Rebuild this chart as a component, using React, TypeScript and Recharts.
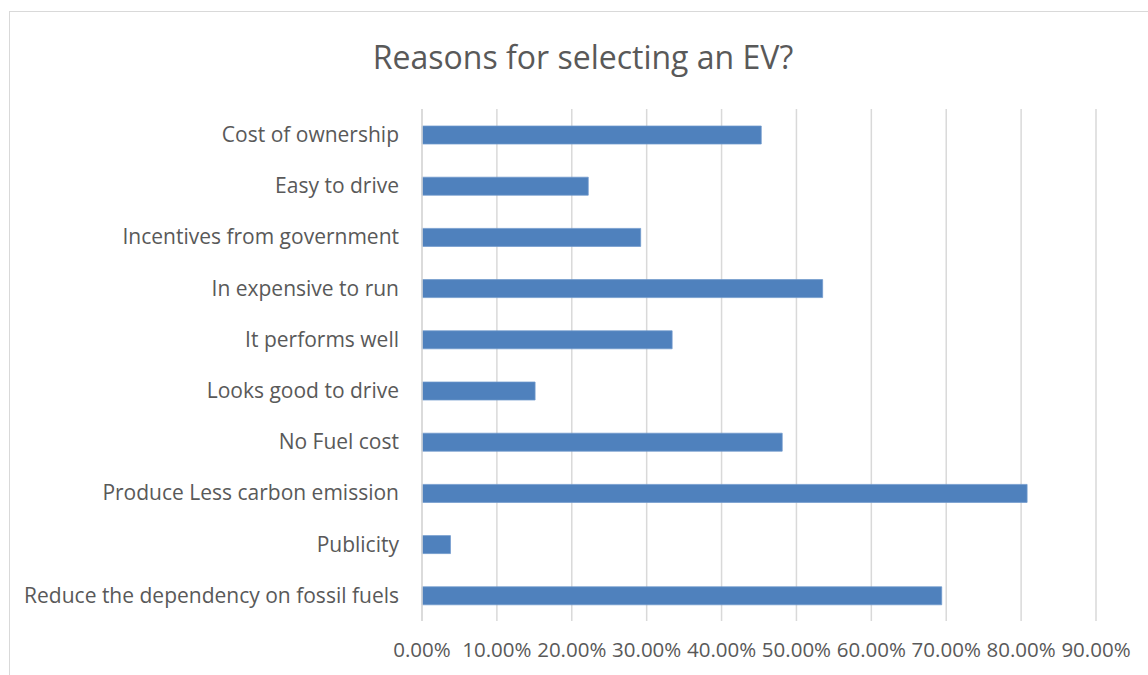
import { Bar, BarChart, CartesianGrid, XAxis, YAxis } from 'recharts';

// Survey reasons, top to bottom as shown
const reasons = [
  'Cost of ownership',
  'Easy to drive ',
  'Incentives from government',
  'In expensive to run',
  'It performs well',
  'Looks good to drive',
  'No Fuel cost',
  'Produce Less carbon emission',
  'Publicity',
  'Reduce the dependency on fossil fuels',
];

// share of respondents (fraction)
const shares = [0.453, 0.222, 0.292, 0.535, 0.334, 0.151, 0.481, 0.808, 0.038, 0.694];

const xTicks = [0, 0.1, 0.2, 0.3, 0.4, 0.5, 0.6, 0.7, 0.8, 0.9];

const FONT = '"Open Sans", "Noto Sans", sans-serif';
const TEXT = '#595959';
const GRID = '#d9d9d9';

export default function App() {
  const data = reasons.map((name, i) => ({ name, share: shares[i] }));

  return (
    <div style={{ position: 'absolute', left: 0, top: 0, width: 1148, height: 675, overflow: 'hidden', background: '#fff' }}>
      {/* chart frame, runs off the right and bottom edge like the crop */}
      <div
        style={{
          position: 'absolute',
          left: 9,
          top: 11,
          width: 1200,
          height: 700,
          border: `1.5px solid ${GRID}`,
          boxSizing: 'border-box',
        }}
      />
      <div
        style={{
          position: 'absolute',
          left: 0,
          width: 1166,
          top: 36,
          textAlign: 'center',
          fontFamily: FONT,
          fontSize: 32,
          color: TEXT,
          lineHeight: '42px',
        }}
      >
        Reasons for selecting an EV?
      </div>
      <div style={{ position: 'absolute', left: 0, top: 0 }}>
        <BarChart
          width={1148}
          height={675}
          data={data}
          layout="vertical"
          margin={{ top: 109, right: 52, left: 0, bottom: 0 }}
        >
          <CartesianGrid horizontal={false} stroke={GRID} strokeWidth={1.5} />
          <XAxis
            type="number"
            domain={[0, 0.9]}
            ticks={xTicks}
            tickFormatter={(v: number) => `${(v * 100).toFixed(2)}%`}
            axisLine={false}
            tickLine={false}
            tickSize={0}
            tickMargin={21}
            height={54}
            interval={0}
            tick={{ fontSize: 20.5, fill: TEXT, fontFamily: FONT }}
          />
          <YAxis
            type="category"
            dataKey="name"
            width={422}
            axisLine={{ stroke: GRID, strokeWidth: 1.5 }}
            tickLine={false}
            tickSize={0}
            tickMargin={23}
            interval={0}
            tick={{ fontSize: 21, fill: TEXT, fontFamily: FONT }}
          />
          <Bar dataKey="share" fill="#4f81bd" stroke="#6f98cc" strokeWidth={0.75} barSize={18} isAnimationActive={false} />
        </BarChart>
      </div>
    </div>
  );
}
